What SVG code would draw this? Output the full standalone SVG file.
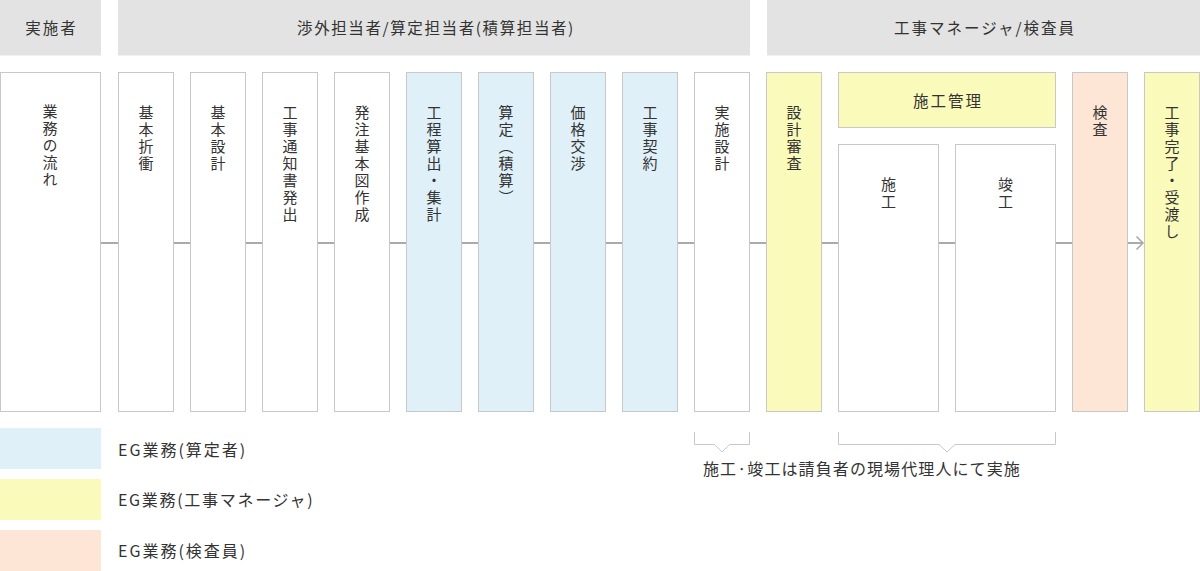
<svg xmlns="http://www.w3.org/2000/svg" width="1200" height="571" viewBox="0 0 1200 571">
<style>
text{font-family:"Noto Sans CJK JP","Noto Sans",sans-serif;fill:#333;}
.hd{fill:#e3e3e3;}
.bx{stroke:#c8c8c8;stroke-width:1;fill:#fff;}
.blue{fill:#dff0f9;}
.yel{fill:#fafabb;}
.pch{fill:#fde6d6;}
.ht{font-size:15.5px;letter-spacing:2px;text-anchor:middle;}
.vt{font-size:15px;letter-spacing:2px;writing-mode:vertical-rl;text-anchor:start;}
.lt{font-size:16px;letter-spacing:2px;}
.nt{font-size:16px;letter-spacing:1.1px;}
.con{stroke:#aaa;stroke-width:2;fill:none;}
.br{stroke:#c8c8c8;stroke-width:1;fill:none;}
</style>
<rect width="1200" height="571" fill="#fff"/>
<g id="headers">
<g id="h-actor"><rect class="hd" x="0" y="0" width="101" height="55.5"/><text class="ht" x="51.5" y="33.5">実施者</text></g>
<g id="h-shogai"><rect class="hd" x="118" y="0" width="632" height="55.5"/><text class="ht" x="436" y="33.5" style="letter-spacing:1.6px">渉外担当者/算定担当者(積算担当者)</text></g>
<g id="h-manager"><rect class="hd" x="767" y="0" width="433" height="55.5"/><text class="ht" x="985" y="33.5">工事マネージャ/検査員</text></g>
</g>
<g id="connectors">
<path class="con" d="M101 243H118M174 243H190M246 243H262M318 243H334M390 243H406M462 243H478M534 243H550M606 243H622M678 243H694M750 243H766M822 243H838M939 243H955M1056 243H1072M1128 243H1143"/>
<path d="M1136.5 236.5L1143 243L1136.5 249.5" stroke="#aaa" stroke-width="1.6" fill="none"/>
</g>
<g id="n-flow"><rect class="bx" x="0.5" y="72.5" width="100" height="339"/><text class="vt" x="50" y="104">業務の流れ</text></g>
<g id="n-kihonsessho"><rect class="bx" x="118.5" y="72.5" width="55" height="339"/><text class="vt" x="146" y="105">基本折衝</text></g>
<g id="n-kihonsekkei"><rect class="bx" x="190.5" y="72.5" width="55" height="339"/><text class="vt" x="218" y="105">基本設計</text></g>
<g id="n-tsuchisho"><rect class="bx" x="262.5" y="72.5" width="55" height="339"/><text class="vt" x="290" y="105">工事通知書発出</text></g>
<g id="n-kihonzu"><rect class="bx" x="334.5" y="72.5" width="55" height="339"/><text class="vt" x="362" y="105">発注基本図作成</text></g>
<g id="n-kotei"><rect class="bx blue" x="406.5" y="72.5" width="55" height="339"/><text class="vt" x="434" y="105">工程算出・集計</text></g>
<g id="n-santei"><rect class="bx blue" x="478.5" y="72.5" width="55" height="339"/><text class="vt" x="506" y="105">算定（積算）</text></g>
<g id="n-kakaku"><rect class="bx blue" x="550.5" y="72.5" width="55" height="339"/><text class="vt" x="578" y="105">価格交渉</text></g>
<g id="n-keiyaku"><rect class="bx blue" x="622.5" y="72.5" width="55" height="339"/><text class="vt" x="650" y="105">工事契約</text></g>
<g id="n-jisshi"><rect class="bx" x="694.5" y="72.5" width="55" height="339"/><text class="vt" x="722" y="105">実施設計</text></g>
<g id="n-shinsa"><rect class="bx yel" x="766.5" y="72.5" width="55" height="339"/><text class="vt" x="794" y="105">設計審査</text></g>
<g id="n-kanri"><rect class="bx yel" x="838.5" y="72.5" width="217" height="55"/><text class="ht" x="948" y="107">施工管理</text></g>
<g id="n-seko"><rect class="bx" x="838.5" y="144.5" width="100" height="267"/><text class="vt" x="888.5" y="177">施工</text></g>
<g id="n-shunko"><rect class="bx" x="955.5" y="144.5" width="100" height="267"/><text class="vt" x="1005.5" y="177">竣工</text></g>
<g id="n-kensa"><rect class="bx pch" x="1072.5" y="72.5" width="55" height="339"/><text class="vt" x="1100" y="105">検査</text></g>
<g id="n-kanryo"><rect class="bx yel" x="1144.5" y="72.5" width="55" height="339"/><text class="vt" x="1172" y="105">工事完了・受渡し</text></g>
<g id="note">
<path class="br" d="M694.5 432V444.5H714.5L722 452L729.5 444.5H749.5V432"/>
<path class="br" d="M838.5 432V444.5H939L947 452L955 444.5H1055.5V432"/>
<text class="nt" x="703" y="475">施工·竣工は請負者の現場代理人にて実施</text>
</g>
<g id="legend">
<g id="lg-blue"><rect class="blue" x="0" y="428" width="101" height="41"/><text class="lt" x="118" y="455.5">EG業務(算定者)</text></g>
<g id="lg-yel"><rect class="yel" x="0" y="479" width="101" height="41"/><text class="lt" x="118" y="506" style="letter-spacing:1.7px">EG業務(工事マネージャ)</text></g>
<g id="lg-pch"><rect class="pch" x="0" y="530" width="101" height="41"/><text class="lt" x="118" y="557">EG業務(検査員)</text></g>
</g>
</svg>
